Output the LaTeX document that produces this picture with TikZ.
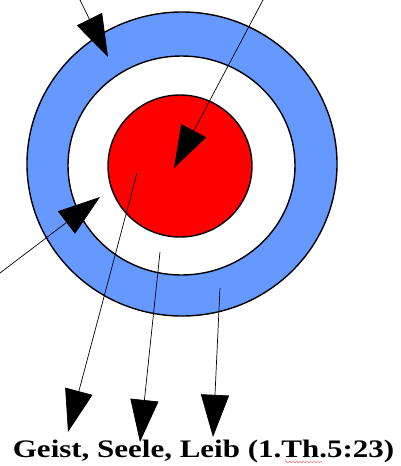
\documentclass[tikz,border=0pt]{standalone}
\usepackage{fontspec}
\setmainfont{Liberation Serif}
\usepackage{tikz}
\usetikzlibrary{arrows.meta,shapes.geometric,decorations.pathmorphing}
\definecolor{ringblue}{HTML}{6699FF}
\definecolor{corered}{HTML}{FF0000}

\begin{document}
\begin{tikzpicture}[x=0.03cm, y=-0.03cm, >={Triangle[length=36pt,width=24pt]},
  ring/.style={ellipse, draw=black, line width=1.2pt, inner sep=0pt},
  pointer/.style={->, black, line width=0.6pt},
  title/.style={font=\bfseries\fontsize{21.5}{24}\selectfont, anchor=base, inner sep=0pt}]
  \useasboundingbox (0,0) rectangle (401,466);
  % target rings
  \node[ring, fill=ringblue, minimum width=9.3cm, minimum height=9.12cm] (body) at (182,164) {};
  \node[ring, fill=white, minimum width=6.81cm, minimum height=6.57cm] (soul) at (181.5,165.5) {};
  \node[ring, fill=corered, minimum width=4.32cm, minimum height=4.26cm] (spirit) at (180,166) {};
  % incoming arrows
  \coordinate (in1) at (80,0);
  \coordinate (tip1) at (108,57);
  \coordinate (in2) at (263,0);
  \coordinate (tip2) at (174,168);
  \coordinate (in3) at (0,273);
  \coordinate (tip3) at (100,197);
  \draw[pointer] (in1) -- (tip1);
  \draw[pointer] (in2) -- (tip2);
  \draw[pointer] (in3) -- (tip3);
  % outgoing arrows
  \coordinate (geist) at (137,173);
  \coordinate (seele) at (160,252);
  \coordinate (leib) at (220,288);
  \coordinate (out1) at (68,432);
  \coordinate (out2) at (140,442);
  \coordinate (out3) at (213,437);
  \draw[pointer] (geist) -- (out1);
  \draw[pointer] (seele) -- (out2);
  \draw[pointer] (leib) -- (out3);
  \node[title] (verse) at (203.5,457) {\scalebox{1.23}[1]{Geist, Seele, Leib (1.Th.5:23)}};
  \coordinate (sq1) at (285,462);
  \coordinate (sq2) at (323,462);
  \draw[red!60, line width=0.4pt, decorate, decoration={snake, amplitude=0.7pt, segment length=3pt}] (sq1) -- (sq2);
\end{tikzpicture}
\end{document}
